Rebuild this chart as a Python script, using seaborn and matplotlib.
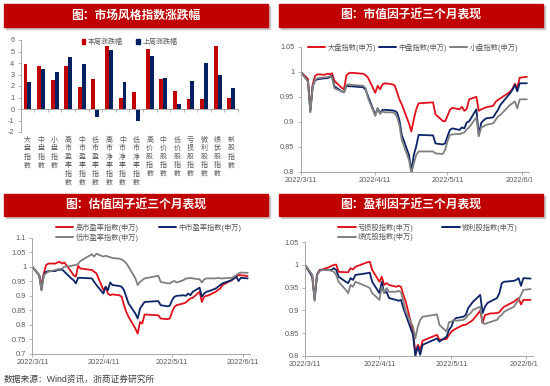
import numpy as np
import pandas as pd
import matplotlib
matplotlib.use("Agg")
import matplotlib.pyplot as plt
from matplotlib.patches import Rectangle
from matplotlib.lines import Line2D
from matplotlib.transforms import Bbox, TransformedBbox, blended_transform_factory
import seaborn as sns

# ---------------- data ----------------
categories = ["大盘指数", "中盘指数", "小盘指数", "高市盈率指数", "中市盈率指数", "低市盈率指数",
              "高市净率指数", "中市净率指数", "低市净率指数", "高价股指数", "中价股指数", "低价股指数",
              "亏损股指数", "微利股指数", "绩优股指数", "新股指数"]
this_week = [3.87, 3.74, 2.48, 3.77, 1.89, 2.62, 5.48, 1.00, 1.50, 5.18, 2.59, 1.53, 0.88, 0.88, 5.47, 1.00]
last_week = [2.33, 3.47, 3.26, 4.50, 3.94, -0.67, 5.12, 2.33, -1.02, 4.59, 2.68, 0.44, 2.47, 4.00, 2.94, 1.85]
bar_series = ["本周涨跌幅", "上周涨跌幅"]

holidays = ["2022-04-04", "2022-04-05", "2022-05-02", "2022-05-03", "2022-05-04", "2022-06-03"]
dates = pd.bdate_range("2022-03-11", "2022-06-13", freq="C", holidays=holidays)
x_end = "2022-06-14"

date_ticks = ["2022-03-11", "2022-04-11", "2022-05-11", "2022-06-11"]
date_tick_labels = ["2022/3/11", "2022/4/11", "2022/5/11", "2022/6/11"]

size_names = ["大盘指数(申万)", "中盘指数(申万)", "小盘指数(申万)"]
size_large = [1.000, 0.986, 0.925, 0.975, 0.992, 0.995, 0.994, 0.996, 0.995, 0.997, 0.982, 0.968, 0.965, 0.993, 0.997,
              0.998, 0.996, 0.993, 0.988, 0.958, 0.972, 0.965, 0.975, 0.977, 0.975, 0.973, 0.960, 0.945, 0.935, 0.897, 0.881, 0.905, 0.925, 0.937,
              0.939, 0.915, 0.902, 0.901, 0.912, 0.924, 0.928, 0.925, 0.930, 0.922, 0.926, 0.945, 0.950, 0.922, 0.925, 0.927, 0.929, 0.932, 0.940,
              0.944, 0.947, 0.960, 0.966, 0.976, 0.968, 0.988, 0.990]
size_mid = [1.000, 0.981, 0.921, 0.971, 0.983, 0.985, 0.987, 0.987, 0.989, 0.992, 0.971, 0.961, 0.959, 0.972, 0.971,
            0.971, 0.969, 0.964, 0.951, 0.914, 0.927, 0.917, 0.924, 0.924, 0.923, 0.922, 0.919, 0.904, 0.874, 0.834, 0.801, 0.834, 0.851, 0.874,
            0.873, 0.857, 0.855, 0.857, 0.871, 0.884, 0.887, 0.884, 0.889, 0.887, 0.899, 0.901, 0.925, 0.874, 0.898, 0.903, 0.907, 0.909, 0.917,
            0.924, 0.934, 0.957, 0.964, 0.974, 0.961, 0.977, 0.977]
size_small = [1.000, 0.981, 0.919, 0.971, 0.984, 0.987, 0.989, 0.989, 0.991, 0.989, 0.967, 0.961, 0.959, 0.974, 0.975,
              0.974, 0.972, 0.967, 0.947, 0.912, 0.927, 0.916, 0.921, 0.919, 0.919, 0.917, 0.911, 0.894, 0.864, 0.824, 0.797, 0.817, 0.834, 0.841,
              0.841, 0.837, 0.836, 0.844, 0.861, 0.874, 0.875, 0.876, 0.877, 0.879, 0.885, 0.889, 0.909, 0.871, 0.889, 0.891, 0.894, 0.897, 0.904,
              0.911, 0.914, 0.934, 0.937, 0.941, 0.927, 0.945, 0.945]

pe_names = ["高市盈率指数(申万)", "中市盈率指数(申万)", "低市盈率指数(申万)"]
pe_high = [1.000, 0.971, 0.937, 0.977, 1.006, 1.011, 1.011, 1.015, 1.017, 1.011, 1.015, 0.983, 0.971, 0.966, 1.003,
           0.994, 0.989, 0.983, 0.977, 0.920, 0.931, 0.908, 0.902, 0.905, 0.902, 0.897, 0.868, 0.845, 0.828, 0.787, 0.770, 0.810, 0.805, 0.836,
           0.833, 0.822, 0.820, 0.822, 0.845, 0.862, 0.868, 0.874, 0.877, 0.885, 0.891, 0.893, 0.914, 0.879, 0.897, 0.900, 0.902, 0.914, 0.920,
           0.925, 0.937, 0.954, 0.960, 0.966, 0.971, 0.971, 0.968]
pe_mid = [1.000, 0.971, 0.920, 0.971, 0.983, 0.985, 0.985, 0.989, 0.989, 0.991, 0.983, 0.960, 0.954, 0.943, 0.962,
          0.962, 0.960, 0.948, 0.937, 0.908, 0.931, 0.920, 0.946, 0.937, 0.934, 0.931, 0.920, 0.897, 0.874, 0.839, 0.822, 0.856, 0.868, 0.879,
          0.882, 0.868, 0.864, 0.866, 0.885, 0.897, 0.900, 0.902, 0.900, 0.908, 0.902, 0.914, 0.928, 0.897, 0.908, 0.914, 0.916, 0.925, 0.931,
          0.937, 0.943, 0.954, 0.960, 0.966, 0.951, 0.962, 0.960]
pe_low = [1.000, 0.971, 0.920, 0.971, 0.977, 0.983, 0.989, 0.991, 0.992, 0.994, 1.000, 1.003, 1.005, 1.006, 1.010,
          1.020, 1.043, 1.035, 1.045, 1.035, 1.038, 1.035, 1.033, 1.030, 1.028, 1.025, 1.020, 1.012, 1.000, 0.960, 0.937, 0.948, 0.954, 0.960,
          0.969, 0.948, 0.943, 0.943, 0.948, 0.951, 0.946, 0.954, 0.960, 0.960, 0.962, 0.960, 0.957, 0.946, 0.957, 0.960, 0.960, 0.960, 0.962,
          0.960, 0.960, 0.962, 0.966, 0.971, 0.977, 0.980, 0.979]

profit_names = ["亏损股指数(申万)", "微利股指数(申万)", "绩优股指数(申万)"]
profit_loss = [1.000, 0.978, 0.927, 0.978, 0.989, 0.990, 0.995, 0.998, 1.000, 1.001, 0.985, 0.984, 0.984, 0.993, 0.990,
               0.996, 1.006, 1.007, 0.989, 0.963, 0.974, 0.956, 0.960, 0.956, 0.952, 0.954, 0.952, 0.934, 0.919, 0.853, 0.805, 0.824, 0.813, 0.833,
               0.846, 0.835, 0.837, 0.846, 0.853, 0.857, 0.860, 0.868, 0.868, 0.872, 0.875, 0.879, 0.899, 0.872, 0.890, 0.891, 0.893, 0.894, 0.896,
               0.903, 0.908, 0.919, 0.923, 0.927, 0.913, 0.923, 0.923]
profit_low = [1.000, 0.974, 0.923, 0.978, 0.987, 0.989, 0.989, 0.989, 0.993, 0.989, 0.974, 0.963, 0.960, 0.971, 0.967,
              0.978, 0.982, 0.983, 0.963, 0.938, 0.963, 0.938, 0.941, 0.927, 0.923, 0.921, 0.923, 0.905, 0.890, 0.846, 0.800, 0.820, 0.802, 0.824,
              0.838, 0.831, 0.842, 0.857, 0.864, 0.879, 0.883, 0.886, 0.890, 0.905, 0.912, 0.919, 0.934, 0.894, 0.908, 0.916, 0.919, 0.927, 0.938,
              0.960, 0.963, 0.965, 0.967, 0.971, 0.954, 0.971, 0.970]
profit_high = [1.000, 0.978, 0.921, 0.978, 0.987, 0.989, 0.989, 0.987, 0.985, 0.978, 0.963, 0.945, 0.938, 0.956, 0.952,
               0.963, 0.952, 0.949, 0.938, 0.923, 0.952, 0.938, 0.949, 0.941, 0.941, 0.943, 0.940, 0.919, 0.897, 0.864, 0.838, 0.864, 0.879, 0.886,
               0.891, 0.868, 0.853, 0.874, 0.875, 0.879, 0.877, 0.879, 0.883, 0.890, 0.894, 0.901, 0.908, 0.872, 0.870, 0.872, 0.874, 0.879, 0.886,
               0.890, 0.897, 0.908, 0.916, 0.923, 0.934, 0.945, 0.947]

titles = ["图：市场风格指数涨跌幅", "图：市值因子近三个月表现", "图：估值因子近三个月表现", "图：盈利因子近三个月表现"]
source_text = "数据来源：Wind资讯，浙商证券研究所"

# ---------------- style ----------------
sns.set_theme(style="ticks")
plt.rcParams["font.family"] = ["Liberation Sans", "Noto Sans CJK SC"]
plt.rcParams["axes.unicode_minus"] = False

BANNER = "#C00000"
BAR_RED, BAR_NAVY = "#C00000", "#002060"
RED, NAVY, GRAY = "#E0101A", "#0A2468", "#808080"
AX_COLOR = "#A6A6A6"
TXT = "#595959"
W, H = 550.0, 386.0

fig = plt.figure(figsize=(5.5, 3.86), dpi=100)


def px_axes(x0, y0, x1, y1):
    return fig.add_axes([x0 / W, 1 - y1 / H, (x1 - x0) / W, (y1 - y0) / H])


def banner(x0, y0, x1, y1, text):
    fig.add_artist(Rectangle(((x0 + 1.5) / W, 1 - (y1 + 2) / H), (x1 - x0) / W, (y1 - y0) / H,
                             transform=fig.transFigure, color="#C8C8C8", zorder=0))
    fig.add_artist(Rectangle((x0 / W, 1 - y1 / H), (x1 - x0) / W, (y1 - y0) / H,
                             transform=fig.transFigure, color=BANNER, zorder=1))
    fig.text((x0 + x1) / 2 / W, 1 - (y0 + y1) / 2 / H, text, ha="center", va="center",
             color="white", fontsize=8.5, fontweight="bold", family=["Noto Sans CJK SC"], zorder=2)


def style_axes(ax):
    for s in ["top", "right"]:
        ax.spines[s].set_visible(False)
    for s in ["left", "bottom"]:
        ax.spines[s].set_color(AX_COLOR)
        ax.spines[s].set_linewidth(0.7)
    ax.tick_params(axis="both", colors=AX_COLOR, labelcolor=TXT, labelsize=5.3,
                   length=2, width=0.6, direction="out", pad=2.5)
    ax.set_xlabel("")
    ax.set_ylabel("")
    ax.grid(False)


# ---------------- banners ----------------
banner(4, 4, 268, 27, titles[0])
banner(279, 4, 543, 27, titles[1])
banner(4, 194, 268, 216, titles[2])
banner(279, 194, 543, 216, titles[3])

# ---------------- bar chart ----------------
axb = px_axes(20.7, 40, 238, 132)
bar_df = pd.DataFrame({
    "cat": categories * 2,
    "value": this_week + last_week,
    "series": [bar_series[0]] * len(categories) + [bar_series[1]] * len(categories),
})
sns.barplot(data=bar_df, x="cat", y="value", hue="series", hue_order=bar_series,
            palette=[BAR_RED, BAR_NAVY], saturation=1, width=0.58, errorbar=None,
            linewidth=0, edgecolor="none", legend=False, ax=axb)
style_axes(axb)
axb.set_ylim(-2, 6)
axb.set_yticks(range(-2, 7))
axb.set_xlim(-0.5, len(categories) - 0.5)
axb.spines["bottom"].set_position(("data", 0))
axb.set_xticks(np.arange(-0.5, len(categories), 1.0))
axb.set_xticklabels([])
trans = blended_transform_factory(axb.transData, axb.transAxes)
for i, c in enumerate(categories):
    axb.text(i, -0.04, "\n".join(c), transform=trans, ha="center", va="top",
             fontsize=5, linespacing=1.1, color=TXT, family=["Noto Sans CJK SC"])
axb.legend(handles=[Rectangle((0, 0), 1, 1, color=BAR_RED), Rectangle((0, 0), 1, 1, color=BAR_NAVY)],
           labels=bar_series, ncol=2, loc="center", bbox_to_anchor=(0.5, 0.975), frameon=False,
           fontsize=5, handlelength=0.55, handleheight=0.7, handletextpad=0.3, columnspacing=2.0,
           labelcolor=TXT, borderaxespad=0, borderpad=0)


# ---------------- line charts ----------------
def line_panel(ax, names, series, ylim, yticks, leg_xy, colspace, ncol, order, clip_x=None):
    df = pd.DataFrame({
        "date": np.tile(dates.values, len(names)),
        "value": np.concatenate([np.asarray(s) for s in series]),
        "series": np.repeat(names, len(dates)),
    })
    sns.lineplot(data=df, x="date", y="value", hue="series", hue_order=names,
                 palette=[RED, NAVY, GRAY], linewidth=1.3, legend=False, ax=ax)
    style_axes(ax)
    ax.set_ylim(*ylim)
    ax.set_yticks(yticks)
    ax.set_yticklabels([f"{t:g}" for t in yticks])
    ax.set_xlim(dates[0], pd.Timestamp(x_end))
    ax.set_xticks(pd.to_datetime(date_ticks))
    ax.set_xticklabels(date_tick_labels)
    ax.tick_params(axis="x", pad=1.5)
    cols = [RED, NAVY, GRAY]
    handles = [Line2D([], [], color=cols[k], lw=1.4) for k in order]
    labels = [names[k] for k in order]
    ax.legend(handles, labels, ncol=ncol, loc="center", bbox_to_anchor=leg_xy, frameon=False,
              fontsize=5.2, handlelength=2.4, handletextpad=0.3, columnspacing=colspace,
              labelspacing=0.25, labelcolor=TXT, borderaxespad=0, borderpad=0)
    if clip_x is not None:
        box = TransformedBbox(Bbox.from_extents(0, 0, clip_x / W, 1), fig.transFigure)
        for lbl in ax.get_xticklabels():
            lbl.set_clip_box(box)
            lbl.set_clip_on(True)


ax1 = px_axes(300.7, 46.7, 529.3, 172)
line_panel(ax1, size_names, [size_large, size_mid, size_small], (0.8, 1.05),
           [0.8, 0.85, 0.9, 0.95, 1.0, 1.05], (0.491, 0.992), 0.4, 3, [0, 1, 2], clip_x=532)

ax2 = px_axes(32.3, 237.7, 250, 354)
line_panel(ax2, pe_names, [pe_high, pe_mid, pe_low], (0.7, 1.1),
           [0.7, 0.75, 0.8, 0.85, 0.9, 0.95, 1.0, 1.05, 1.1], (0.535, 1.045), 2.8, 2, [0, 2, 1])

ax3 = px_axes(305, 242.3, 533, 355.7)
line_panel(ax3, profit_names, [profit_loss, profit_low, profit_high], (0.8, 1.05),
           [0.8, 0.85, 0.9, 0.95, 1.0, 1.05], (0.539, 1.087), 4.0, 2, [0, 2, 1], clip_x=537)

fig.text(4 / W, 1 - 379 / H, source_text, fontsize=6.3, color="#404040", va="center", ha="left")

fig.savefig("out.png", dpi=100)
